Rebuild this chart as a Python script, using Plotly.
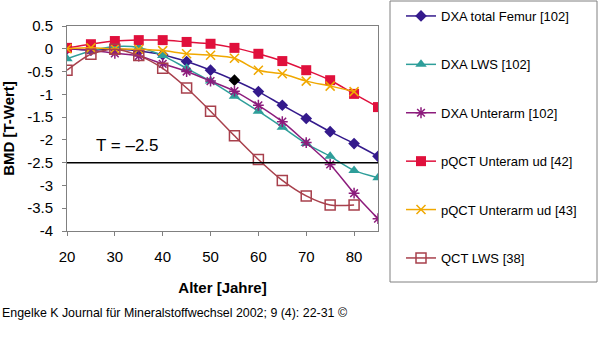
import plotly.graph_objects as go

ages = [20, 25, 30, 35, 40, 45, 50, 55, 60, 65, 70, 75, 80, 85]
dxa_femur = [0.0, -0.03, 0.0, -0.05, -0.13, -0.28, -0.47, -0.69, -0.94, -1.24, -1.53, -1.82, -2.08, -2.36]
dxa_lws = [-0.22, -0.05, 0.05, 0.03, -0.15, -0.43, -0.71, -1.04, -1.37, -1.72, -2.08, -2.36, -2.67, -2.83]
dxa_unterarm = [0.0, -0.03, -0.1, -0.16, -0.33, -0.5, -0.71, -0.93, -1.24, -1.6, -2.06, -2.54, -3.17, -3.73]
pqct_42 = [0.02, 0.1, 0.17, 0.19, 0.19, 0.15, 0.11, 0.02, -0.11, -0.27, -0.47, -0.69, -0.99, -1.28]
pqct_43 = [0.0, 0.02, 0.0, -0.01, -0.04, -0.11, -0.14, -0.21, -0.47, -0.55, -0.71, -0.82, -0.94, None]
qct_lws = [-0.47, -0.12, -0.01, -0.15, -0.43, -0.86, -1.37, -1.91, -2.43, -2.89, -3.23, -3.43, -3.43, None]

names = ["DXA total Femur [102]", "DXA LWS [102]", "DXA Unterarm [102]",
         "pQCT Unteram ud [42]", "pQCT Unterarm ud [43]", "QCT LWS [38]"]
threshold = -2.5
x_ticks = [20, 30, 40, 50, 60, 70, 80]
y_ticks = [0.5, 0, -0.5, -1, -1.5, -2, -2.5, -3, -3.5, -4]
y_ticktext = ["0.5", "0", "-0.5", "-1", "-1.5", "-2", "-2.5", "-3", "-3.5", "-4"]

series = [dxa_femur, dxa_lws, dxa_unterarm, pqct_42, pqct_43, qct_lws]
colors = ["#341A8C", "#2E9E9A", "#8C1C7C", "#E0103C", "#F0A800", "#A8404C"]
symbols = ["diamond", "triangle-up", "asterisk-open", "square", "x-thin-open", "square-open"]
sizes = [9, 10, 9, 10, 9, 10]

# plot area in pixels
L, R, T, B = 67, 378, 26, 231
PW, PH = R - L, B - T


def px_x(p):
    return (p - L) / PW


def px_y(p):
    return (B - p) / PH


fig = go.Figure()
for i, (vals, name) in enumerate(zip(series, names)):
    mcolor = colors[i]
    if i == 0:
        mcolor = [("#000000" if a == 55 else colors[i]) for a in ages]
    open_sym = symbols[i].endswith("open")
    fig.add_trace(go.Scatter(
        x=ages, y=vals, name=name, mode="lines+markers",
        line=dict(color=colors[i], width=1.5, shape="spline", smoothing=0.8),
        marker=dict(symbol=symbols[i], size=sizes[i], color=mcolor,
                    line=dict(color=colors[i], width=1.5 if open_sym else 0)),
        legendgroup=str(i), connectgaps=False,
    ))

fig.add_shape(type="line", xref="x", yref="y", x0=20, x1=85, y0=threshold, y1=threshold,
              line=dict(color="black", width=1.5))
# legend frame
fig.add_shape(type="rect", xref="paper", yref="paper", x0=px_x(390), x1=px_x(597),
              y0=px_y(282), y1=px_y(1), line=dict(color="#808080", width=1))

fig.add_annotation(xref="paper", yref="paper", x=px_x(127), y=px_y(145),
                   xanchor="center", yanchor="middle",
                   text="T = \u20132.5", showarrow=False, font=dict(size=17, color="black"))

fig.add_annotation(xref="paper", yref="paper", x=px_x(0), y=px_y(313),
                   xanchor="left", yanchor="middle", showarrow=False,
                   text="Engelke K Journal für Mineralstoffwechsel 2002; 9 (4): 22-31 ©",
                   font=dict(size=12.4, color="black"))

fig.update_layout(
    width=600, height=358,
    margin=dict(l=L, r=600 - R, t=T, b=358 - B, autoexpand=False),
    paper_bgcolor="white", plot_bgcolor="white",
    font=dict(family="Liberation Sans, Arial, sans-serif", color="black"),
    showlegend=True,
    legend=dict(xref="container", yref="container", x=401 / 600, y=1 - 1 / 358,
                xanchor="left", yanchor="top", borderwidth=0, bgcolor="rgba(0,0,0,0)",
                font=dict(size=13), tracegroupgap=28.5, itemwidth=30, maxheight=1.0),
    xaxis=dict(range=[20, 85], tickvals=x_ticks, showgrid=False, zeroline=False,
               showline=True, linecolor="#808080", linewidth=1, mirror=True,
               ticks="outside", ticklen=4, tickcolor="#808080", automargin=False,
               tickfont=dict(size=15), ticklabelstandoff=8,
               title=dict(text="<b>Alter [Jahre]</b>", font=dict(size=15), standoff=18)),
    yaxis=dict(range=[-4, 0.5], tickvals=y_ticks, ticktext=y_ticktext, showgrid=False,
               zeroline=False, showline=True, linecolor="#808080", linewidth=1, mirror=True,
               ticks="outside", ticklen=4, tickcolor="#808080", automargin=False,
               tickfont=dict(size=15), ticklabelstandoff=6,
               title=dict(text="<b>BMD [T-Wert]</b>", font=dict(size=15), standoff=8)),
)

fig.write_html("out.html", config={"displayModeBar": False},
               post_script="document.body.style.margin='0';")
